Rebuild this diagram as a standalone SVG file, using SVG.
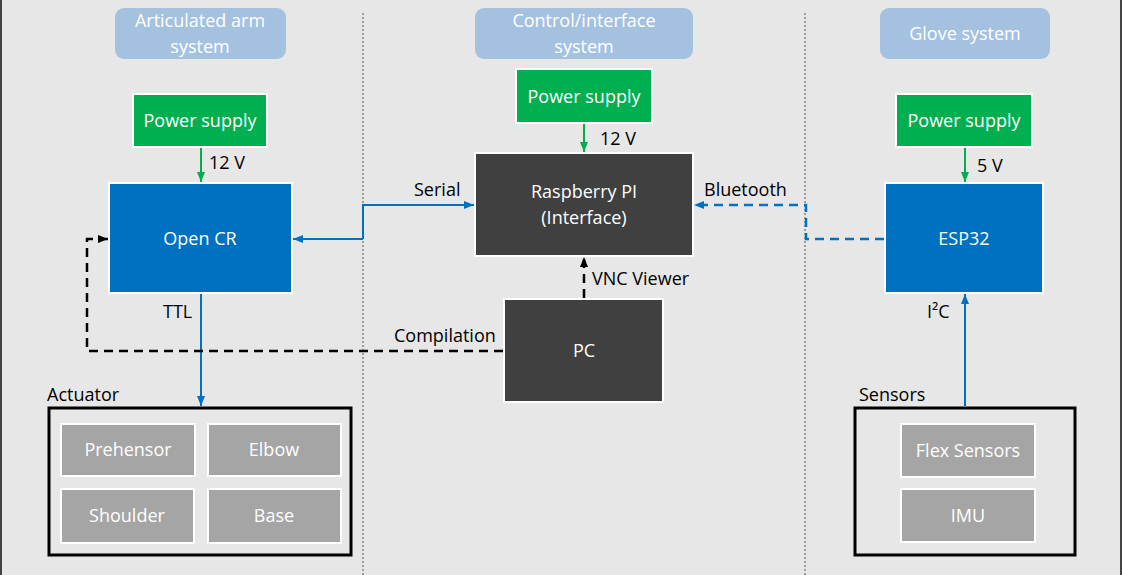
<svg xmlns="http://www.w3.org/2000/svg" width="1122" height="575" viewBox="0 0 1122 575">
<defs>
<style>
text{font-family:"Open Sans","Noto Sans",sans-serif;font-size:18px;}
.hdr rect{fill:#a4c2e0;}
.hdr text{fill:#ffffff;text-anchor:middle;}
.pwr rect{fill:#00b050;stroke:#ffffff;stroke-width:2;}
.blue rect{fill:#0070c0;stroke:#ffffff;stroke-width:2;}
.dark rect{fill:#404040;stroke:#ffffff;stroke-width:2;}
.grey rect{fill:#a5a5a5;stroke:#ffffff;stroke-width:2;}
.frame rect{fill:none;stroke:#000000;stroke-width:3;}
.w{fill:#ffffff;text-anchor:middle;}
.lbl{fill:#000000;}
.sep{stroke:#555555;stroke-width:1;stroke-dasharray:2 2;fill:none;}
.g{stroke:#00b050;stroke-width:2;fill:none;}
.b{stroke:#0070c0;stroke-width:2;fill:none;}
.bd{stroke:#0070c0;stroke-width:2.5;fill:none;stroke-dasharray:9 6;}
.kd{stroke:#000000;stroke-width:2.5;fill:none;stroke-dasharray:9 6;}
</style>
<marker id="ag" markerUnits="userSpaceOnUse" markerWidth="10" markerHeight="10" viewBox="0 0 10 10" refX="10" refY="5" orient="auto"><path d="M0,1 L10,5 L0,9 Z" fill="#00b050"/></marker>
<marker id="ab" markerUnits="userSpaceOnUse" markerWidth="10" markerHeight="10" viewBox="0 0 10 10" refX="10" refY="5" orient="auto"><path d="M0,1 L10,5 L0,9 Z" fill="#0070c0"/></marker>
<marker id="ak" markerUnits="userSpaceOnUse" markerWidth="10" markerHeight="10" viewBox="0 0 10 10" refX="10" refY="5" orient="auto"><path d="M0,1 L10,5 L0,9 Z" fill="#000000"/></marker>
</defs>
<rect x="0" y="0" width="1122" height="575" fill="#e7e7e7"/>
<line x1="1" y1="0" x2="1" y2="575" stroke="#444" stroke-width="2"/>
<line x1="1121" y1="0" x2="1121" y2="575" stroke="#444" stroke-width="2"/>
<line class="sep" x1="363" y1="13" x2="363" y2="575"/>
<line class="sep" x1="805" y1="13" x2="805" y2="575"/>

<g id="hdr-arm" class="hdr"><rect x="115" y="8" width="171" height="51" rx="9"/><text x="200" y="27">Articulated arm</text><text x="200" y="53">system</text></g>
<g id="hdr-ctrl" class="hdr"><rect x="475" y="8" width="218" height="51" rx="9"/><text x="584" y="27">Control/interface</text><text x="584" y="53">system</text></g>
<g id="hdr-glove" class="hdr"><rect x="880" y="8" width="170" height="51" rx="9"/><text x="965" y="40">Glove system</text></g>

<g id="connectors">
<line class="g" x1="201" y1="148" x2="201" y2="182" marker-end="url(#ag)"/>
<line class="g" x1="584" y1="124" x2="584" y2="152" marker-end="url(#ag)"/>
<line class="g" x1="965" y1="148" x2="965" y2="182" marker-end="url(#ag)"/>
<line class="b" x1="363" y1="239" x2="293" y2="239" marker-end="url(#ab)"/>
<polyline class="b" points="363,239 363,205 474,205" marker-end="url(#ab)"/>
<polyline class="bd" points="884,239 806,239 806,205 694,205" marker-end="url(#ab)"/>
<line class="b" x1="201" y1="294" x2="201" y2="406" marker-end="url(#ab)"/>
<line class="b" x1="965" y1="406" x2="965" y2="294" marker-end="url(#ab)"/>
<line class="kd" x1="584" y1="298" x2="584" y2="257" marker-end="url(#ak)"/>
<polyline class="kd" points="503,351 87,351 87,239 108,239" marker-end="url(#ak)"/>
<text class="lbl" x="209" y="169">12 V</text>
<text class="lbl" x="600" y="145">12 V</text>
<text class="lbl" x="977" y="172">5 V</text>
<text class="lbl" x="414" y="196">Serial</text>
<text class="lbl" x="704" y="196">Bluetooth</text>
<text class="lbl" x="592" y="285">VNC Viewer</text>
<text class="lbl" x="394" y="342">Compilation</text>
<text class="lbl" x="163" y="318">TTL</text>
<text class="lbl" x="927" y="318">I²C</text>
</g>

<g id="pwr-arm" class="pwr"><rect x="133" y="94" width="134" height="53"/><text class="w" x="200" y="127">Power supply</text></g>
<g id="opencr" class="blue"><rect x="109" y="183" width="183" height="110"/><text class="w" x="200" y="245">Open CR</text></g>
<g id="pwr-ctrl" class="pwr"><rect x="516" y="69" width="136" height="54"/><text class="w" x="584" y="103">Power supply</text></g>
<g id="rpi" class="dark"><rect x="475" y="153" width="218" height="103"/><text class="w" x="584" y="198">Raspberry PI</text><text class="w" x="584" y="224">(Interface)</text></g>
<g id="pc" class="dark"><rect x="504" y="299" width="159" height="103"/><text class="w" x="584" y="357">PC</text></g>
<g id="pwr-glove" class="pwr"><rect x="896" y="94" width="136" height="53"/><text class="w" x="964" y="127">Power supply</text></g>
<g id="esp32" class="blue"><rect x="885" y="183" width="158" height="110"/><text class="w" x="964" y="245">ESP32</text></g>

<g id="actuator">
<g class="frame"><rect x="49" y="408" width="302" height="147"/></g>
<text class="lbl" x="47" y="401">Actuator</text>
<g id="prehensor" class="grey"><rect x="61" y="424" width="134" height="52"/><text class="w" x="128" y="456">Prehensor</text></g>
<g id="elbow" class="grey"><rect x="208" y="424" width="133" height="52"/><text class="w" x="274" y="456">Elbow</text></g>
<g id="shoulder" class="grey"><rect x="61" y="489" width="133" height="54"/><text class="w" x="127" y="522">Shoulder</text></g>
<g id="base" class="grey"><rect x="208" y="489" width="133" height="54"/><text class="w" x="274" y="522">Base</text></g>
</g>

<g id="sensors">
<g class="frame"><rect x="855" y="408" width="220" height="147"/></g>
<text class="lbl" x="859" y="401">Sensors</text>
<g id="flex" class="grey"><rect x="901" y="424" width="134" height="53"/><text class="w" x="968" y="457">Flex Sensors</text></g>
<g id="imu" class="grey"><rect x="901" y="489" width="134" height="53"/><text class="w" x="968" y="522">IMU</text></g>
</g>
</svg>
